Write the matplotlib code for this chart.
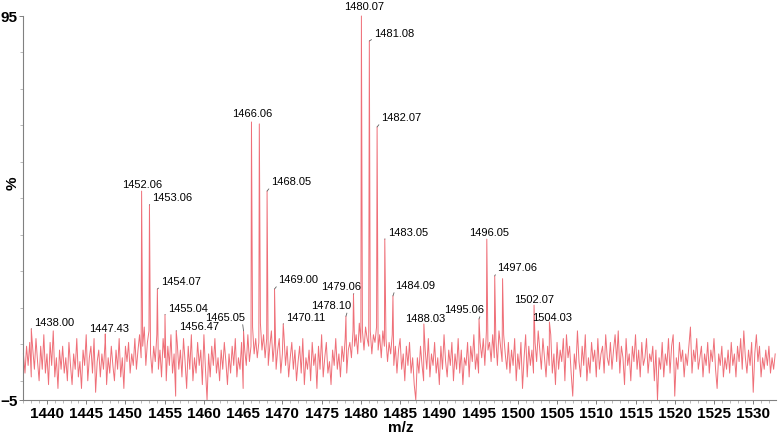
import numpy as np
import matplotlib
matplotlib.use("Agg")
import matplotlib.pyplot as plt
from matplotlib.ticker import MultipleLocator, FixedLocator

plt.rcParams['font.family'] = ['Liberation Sans', 'DejaVu Sans']

# baseline noise, sampled every 0.2 m/z starting at 1437.0 (one row = 5 m/z)
noise_start = 1437.0
noise_step = 0.2
noise = [
    7, 2, 9, 4, 10, 1, 8, 3, 11, 5, 0, 9, 3, 12, 2, 7, -1, 10, 4, 13, 1, 6, -2, 8, 3,
    9, 2, 6, 0, 10, 4, -1, 7, 3, 11, 1, 5, -2, 8, 4, 12, 0, 6, 9, 2, 11, -3, 5, 8, 1,
    7, 3, 10, -1, 6, 2, 9, 4, 0, 8, 3, 11, 1, 6, -2, 9, 5, 10, 2, 7, 4, 11, 3, 8, 12,
    6, 9, 14, 4, 10, 13, 7, 2, 9, 5, 12, 3, 8, 1, 11, 6, 0, 9, 4, 12, 2, 7, -4, 10, 3,
    8, 1, 11, 5, -2, 9, 3, 12, 0, 6, 2, 10, 4, 8, -1, 12, 3, -5, 7, 1, 9, 4, 11, 2, 6,
    0, 8, 3, 10, 5, -1, 7, 2, 9, 4, 11, 1, 6, 3, 10, -2, 8, 4, 12, 5, 9, 14, 7, 11, 6,
    10, 15, 8, 12, 6, 11, 4, 9, 13, 5, 10, 3, 8, 11, 2, 7, 12, 4, 9, 1, 6, 10, 3, 8, 0,
    5, 9, 2, 11, -1, 6, 3, 8, 0, 10, 4, 7, -2, 9, 3, 12, 1, 6, 10, 2, 5, -1, 8, 4, 11,
    3, 7, 1, 9, 5, 11, 2, 8, 10, 6, 13, 9, 12, 7, 15, 10, 13, 8, 14, 11, 9, 13, 7, 12, 10,
    14, 8, 12, 6, 13, 9, 11, 5, 10, 7, 12, 4, 9, 2, 8, 11, 3, 7, 0, 9, 4, 10, 2, 6, -1,
    -5, 6, 2, 9, 4, 0, 8, 3, 11, 1, 7, 4, 10, 2, 6, -1, 9, 3, 12, 5, 1, 8, 4, 10, 0,
    7, 3, 11, 2, 8, -1, 6, 4, 10, 1, 9, 5, 12, 3, 7, 2, 10, 6, 11, 4, 13, 8, 10, 5, 12,
    6, 11, 4, 13, 9, 5, 12, 7, 3, 10, 2, 8, 4, 11, 0, 7, 3, 10, -2, 6, 12, 1, 9, 4, 8,
    2, 10, 5, 13, 8, 3, 11, 6, 1, 9, 4, 12, 2, 7, -1, 10, 3, 8, 5, 11, 0, 12, 6, 9, 2,
    -4, 7, 3, 13, 5, 1, 9, 4, 12, 0, 6, 2, 10, 5, 8, 1, 11, 3, 7, 9, 2, 12, 6, 4, 10,
    3, 8, 12, 5, 13, 2, 9, 6, -1, 11, 4, 7, 0, 9, 5, 12, 3, 8, 1, 10, 4, 6, 11, 2, 7,
    5, 9, 0, 8, -5, 6, 3, 10, 1, 7, 4, 11, 2, 9, 12, -4, 6, 3, 10, 5, 8, 1, 7, 4, 9,
    14, 2, 8, 5, 11, 3, 6, 9, 1, 7, 4, 10, 2, 8, 5, 11, 3, -2, 7, 4, 9, 1, 6, 3, 8,
    2, 10, 4, 7, 1, 9, 5, 11, 3, 13, 6, 2, 8, 4, 10, -3, 7, 12, 5, 9, 1, 6, 3, 8, 4,
    9, 2, 6, 3, 7,
]

peak_mz = [1438.00, 1447.43, 1452.06, 1453.06, 1454.07, 1455.04, 1456.47,
           1465.05, 1466.06, 1467.06, 1468.05, 1469.00, 1470.11, 1478.10,
           1479.06, 1480.07, 1481.08, 1482.07, 1483.05, 1484.09, 1488.03,
           1495.06, 1496.05, 1497.06, 1498.06, 1502.07, 1504.03]
peak_int = [13.5, 12.2, 49.4, 45.8, 23.9, 17.2, 13.0,
            13.0, 67.4, 66.9, 49.4, 23.9, 14.8, 16.8,
            22.6, 95.0, 88.5, 66.1, 36.9, 22.1, 14.8,
            16.1, 36.9, 27.3, 26.6, 19.7, 15.3]
peak_text = ['1438.00', '1447.43', '1452.06', '1453.06', '1454.07', '1455.04', '1456.47',
             '1465.05', '1466.06', None, '1468.05', '1469.00', '1470.11', '1478.10',
             '1479.06', '1480.07', '1481.08', '1482.07', '1483.05', '1484.09', '1488.03',
             '1495.06', '1496.05', '1497.06', None, '1502.07', '1504.03']

# where each label sits relative to the peak top (side, dx px, dy px)
label_pos = [('r', 3, 7), ('c', 4, 6), ('c', 1, 7), ('r', 3, 8), ('r', 4, 8), ('r', 3, 7), ('r', 3, 5),
             ('l', 2, 14), ('c', 1, 9), None, ('r', 4, 10), ('r', 4, 10), ('r', 3, 7), ('l', 5, 11),
             ('l', 8, 8), ('c', 3, 10), ('r', 5, 8), ('r', 4, 10), ('r', 3, 7), ('r', 2, 11), ('c', 1, 6),
             ('l', 5, 10), ('c', 2, 7), ('r', 2, 9), None, ('c', 0, 6), ('c', 3, 5)]

grid = noise_start + noise_step * np.arange(len(noise))
mz = np.concatenate([grid, peak_mz])
inten = np.concatenate([noise, peak_int])
order = np.argsort(mz, kind='stable')

fig = plt.figure(figsize=(7.78, 4.39), dpi=100)
ax = fig.add_axes([0.0296, 0.0866, 0.9678, 0.8747])

ax.plot(mz[order], inten[order], color='#ef6f78', lw=0.7, clip_on=False)

for x, y, txt, pos in zip(peak_mz, peak_int, peak_text, label_pos):
    if txt is None:
        continue
    side, dx, dy = pos
    if side == 'c':
        ax.annotate(txt, xy=(x, y), xytext=(dx, dy), textcoords='offset pixels',
                    ha='center', va='center', fontsize=8, annotation_clip=False)
    else:
        ha = 'left' if side == 'r' else 'right'
        rel = (0.0, 0.0) if side == 'r' else (0.92, 0.0)
        ax.annotate(txt, xy=(x, y), xytext=(dx, dy), textcoords='offset pixels',
                    ha=ha, va='center', fontsize=8, annotation_clip=False,
                    arrowprops=dict(arrowstyle='-', color='#606060', lw=0.6,
                                    shrinkA=0, shrinkB=0, relpos=rel))

ax.set_xlim(1436.95, 1532.9)
ax.set_ylim(-5, 95)

ax.xaxis.set_major_locator(MultipleLocator(5))
ax.xaxis.set_minor_locator(MultipleLocator(1))
ax.set_yticks([-5, 95])
ax.yaxis.set_minor_locator(FixedLocator([0 + 9.5 * k for k in range(10)]))

for s in ['top', 'right']:
    ax.spines[s].set_visible(False)
for s in ['left', 'bottom']:
    ax.spines[s].set_color('#808080')
    ax.spines[s].set_linewidth(0.8)

ax.tick_params(axis='both', which='major', direction='out', length=3, width=0.7,
               color='#808080', labelsize=11, pad=1)
ax.tick_params(axis='both', which='minor', direction='out', length=2, width=0.5,
               color='#a0a0a0')
for lab in ax.get_xticklabels() + ax.get_yticklabels():
    lab.set_fontweight('bold')

fig.text(13 / 778, 1 - 183 / 439, '%', rotation=90, ha='center', va='center',
         fontsize=11, fontweight='bold')
fig.text(401 / 778, 1 - 428 / 439, 'm/z', ha='center', va='center',
         fontsize=11, fontweight='bold')

fig.savefig('out.png', dpi=100)
plt.close()
